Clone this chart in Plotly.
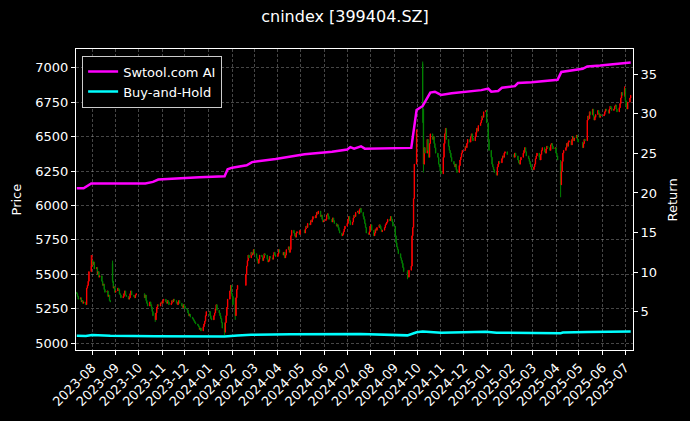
import pandas as pd
import plotly.graph_objects as go

# daily closes, one list per month
close_2023_07 = [5360, 5340, 5320, 5330, 5300, 5310, 5290, 5300, 5280, 5400, 5420, 5450, 5520, 5560]
close_2023_08 = [5600, 5570, 5590, 5540, 5550, 5500, 5520, 5480, 5490, 5450, 5420, 5430, 5390, 5370, 5380,
                 5340, 5350, 5310, 5300, 5450, 5400, 5410, 5370]
close_2023_09 = [5380, 5400, 5390, 5360, 5350, 5330, 5340, 5360, 5380, 5350, 5340, 5320, 5330, 5360, 5380,
                 5350, 5340, 5330, 5350, 5360]
close_2023_10 = [5330, 5350, 5310, 5290, 5270, 5300, 5280, 5260, 5230, 5200, 5170, 5220, 5260, 5280, 5270,
                 5290, 5300]
close_2023_11 = [5290, 5310, 5320, 5300, 5290, 5310, 5300, 5280, 5290, 5310, 5300, 5320, 5310, 5290, 5280,
                 5300, 5310, 5290, 5270, 5260, 5280, 5270]
close_2023_12 = [5250, 5240, 5220, 5200, 5210, 5190, 5180, 5170, 5160, 5150, 5140, 5130, 5120, 5100, 5110,
                 5090, 5120, 5140, 5160, 5200, 5230]
close_2024_01 = [5230, 5200, 5180, 5170, 5200, 5220, 5250, 5280, 5240, 5220, 5200, 5180, 5150, 5110, 5080,
                 5150, 5200, 5260, 5320, 5380, 5420, 5360]
close_2024_02 = [5340, 5280, 5200, 5330, 5390, 5420, 5500, 5560, 5600, 5640, 5620, 5660, 5640, 5650, 5680]
close_2024_03 = [5650, 5620, 5600, 5580, 5610, 5640, 5630, 5600, 5620, 5650, 5640, 5610, 5590, 5600, 5630,
                 5620, 5610, 5640, 5660, 5640, 5630]
close_2024_04 = [5650, 5680, 5660, 5640, 5660, 5620, 5640, 5680, 5700, 5660, 5680, 5780, 5820, 5800, 5780,
                 5770, 5800, 5810, 5790, 5820]
close_2024_05 = [5800, 5830, 5850, 5840, 5870, 5860, 5890, 5880, 5900, 5920, 5910, 5930, 5950, 5940, 5960,
                 5920, 5930, 5900, 5880, 5890]
close_2024_06 = [5900, 5930, 5940, 5920, 5900, 5880, 5910, 5890, 5870, 5850, 5860, 5840, 5820, 5800, 5780,
                 5790, 5810, 5830, 5850]
close_2024_07 = [5870, 5900, 5920, 5890, 5860, 5880, 5910, 5930, 5920, 5950, 5960, 5940, 5970, 5980, 5950,
                 5920, 5900, 5870, 5840, 5800, 5790, 5810, 5850]
close_2024_08 = [5860, 5820, 5780, 5800, 5830, 5820, 5840, 5860, 5850, 5830, 5810, 5820, 5840, 5860, 5870,
                 5880, 5900, 5890, 5920, 5900, 5880, 5850]
close_2024_09 = [5780, 5730, 5700, 5680, 5650, 5620, 5600, 5580, 5550, 5520, 5500, 5480, 5530, 5560, 5780,
                 5840, 6050, 6300, 6550]
close_2024_10 = [6700, 6300, 6420, 6380, 6480, 6400, 6350, 6450, 6520, 6480, 6500, 6450, 6420, 6380, 6350,
                 6300, 6280, 6250]
close_2024_11 = [6230, 6350, 6450, 6520, 6560, 6480, 6430, 6400, 6380, 6350, 6320, 6300, 6280, 6300, 6260,
                 6240, 6290, 6330, 6350, 6380, 6400]
close_2024_12 = [6400, 6430, 6420, 6450, 6480, 6460, 6500, 6520, 6490, 6470, 6500, 6530, 6560, 6540, 6580,
                 6600, 6620, 6650, 6640, 6680, 6690, 6600]
close_2025_01 = [6480, 6400, 6350, 6300, 6280, 6260, 6240, 6220, 6280, 6300, 6320, 6310, 6340, 6360, 6350,
                 6380, 6390, 6370]
close_2025_02 = [6350, 6380, 6360, 6330, 6310, 6300, 6330, 6350, 6380, 6400, 6420, 6390, 6360, 6340, 6320,
                 6300, 6280, 6260]
close_2025_03 = [6280, 6300, 6340, 6360, 6380, 6350, 6330, 6370, 6400, 6420, 6390, 6380, 6410, 6430, 6420,
                 6400, 6440, 6450, 6430, 6410, 6420]
close_2025_04 = [6380, 6360, 6330, 6150, 6250, 6320, 6380, 6400, 6420, 6450, 6430, 6460, 6470, 6440, 6480,
                 6500, 6470, 6490, 6510, 6480, 6460]
close_2025_05 = [6420, 6450, 6480, 6470, 6620, 6650, 6630, 6680, 6660, 6700, 6650, 6620, 6640, 6660, 6690,
                 6670, 6640, 6660, 6650]
close_2025_06 = [6660, 6680, 6700, 6690, 6670, 6700, 6720, 6710, 6690, 6700, 6720, 6730, 6700, 6680, 6710,
                 6740, 6780, 6820, 6800, 6850]
close_2025_07 = [6760, 6720, 6700, 6750, 6780, 6800]

months = ["2023-07", "2023-08", "2023-09", "2023-10", "2023-11", "2023-12",
          "2024-01", "2024-02", "2024-03", "2024-04", "2024-05", "2024-06",
          "2024-07", "2024-08", "2024-09", "2024-10", "2024-11", "2024-12",
          "2025-01", "2025-02", "2025-03", "2025-04", "2025-05", "2025-06", "2025-07"]
monthly_closes = [close_2023_07, close_2023_08, close_2023_09, close_2023_10, close_2023_11, close_2023_12,
                  close_2024_01, close_2024_02, close_2024_03, close_2024_04, close_2024_05, close_2024_06,
                  close_2024_07, close_2024_08, close_2024_09, close_2024_10, close_2024_11, close_2024_12,
                  close_2025_01, close_2025_02, close_2025_03, close_2025_04, close_2025_05, close_2025_06,
                  close_2025_07]

first_open = 5370

# days where the open gapped away from the previous close
gap_dates = ["2023-08-28", "2024-10-08", "2025-04-07"]
gap_opens = [5580, 7030, 6300]

# long wicks
wick_dates = ["2023-07-31", "2023-08-01", "2023-08-28", "2023-10-23", "2024-01-22", "2024-02-05",
              "2024-09-18", "2024-10-08", "2024-10-09", "2025-04-07", "2025-06-30"]
wick_highs = [5640, 5640, 5600, 5220, 5150, 5330, 5530, 7045, 6600, 6330, 6865]
wick_lows = [5540, 5570, 5440, 5155, 5060, 5170, 5465, 6600, 6240, 6060, 6790]

# exchange holidays (weekdays with no trading)
holidays = ["2023-09-29", "2023-10-02", "2023-10-03", "2023-10-04", "2023-10-05", "2023-10-06",
            "2024-01-01", "2024-02-09", "2024-02-12", "2024-02-13", "2024-02-14", "2024-02-15",
            "2024-02-16", "2024-04-04", "2024-04-05", "2024-05-01", "2024-05-02", "2024-05-03",
            "2024-06-10", "2024-09-16", "2024-09-17", "2024-10-01", "2024-10-02", "2024-10-03",
            "2024-10-04", "2024-10-07", "2025-01-01", "2025-01-28", "2025-01-29", "2025-01-30",
            "2025-01-31", "2025-02-03", "2025-02-04", "2025-04-04", "2025-05-01", "2025-05-02",
            "2025-05-05", "2025-06-02"]

# strategy return curves (right axis)
ai_dates = ["2023-07-12", "2023-07-21", "2023-07-31", "2023-10-10", "2023-10-20", "2023-10-27",
            "2023-12-20", "2024-01-22", "2024-01-26", "2024-02-01", "2024-02-20", "2024-02-27",
            "2024-03-29", "2024-04-18", "2024-05-06", "2024-06-11", "2024-07-01", "2024-07-05",
            "2024-07-10", "2024-07-19", "2024-07-24", "2024-09-23", "2024-09-30", "2024-10-08",
            "2024-10-18", "2024-10-24", "2024-11-01", "2024-11-15", "2024-12-24", "2025-01-02",
            "2025-01-06", "2025-01-15", "2025-01-20", "2025-02-06", "2025-02-10", "2025-02-28",
            "2025-04-03", "2025-04-08", "2025-05-06", "2025-05-12", "2025-05-29", "2025-07-08"]
ai_return = [20.6, 20.6, 21.2, 21.2, 21.4, 21.7,
             22.0, 22.1, 23.0, 23.2, 23.5, 23.9,
             24.3, 24.6, 24.9, 25.2, 25.5, 25.8,
             25.6, 25.9, 25.6, 25.7, 30.5, 31.0,
             32.7, 32.8, 32.4, 32.6, 33.0, 33.2,
             32.8, 32.9, 33.3, 33.5, 33.9, 34.0,
             34.3, 35.3, 35.7, 36.0, 36.1, 36.5]

bh_dates = ["2023-07-12", "2023-07-24", "2023-08-01", "2023-08-25", "2023-10-23", "2023-12-28",
            "2024-01-22", "2024-02-08", "2024-02-26", "2024-04-18", "2024-05-20", "2024-07-18",
            "2024-09-18", "2024-09-30", "2024-10-08", "2024-11-01", "2024-12-30", "2025-01-13",
            "2025-04-07", "2025-04-10", "2025-05-12", "2025-06-30", "2025-07-08"]
bh_return = [1.95, 1.92, 2.05, 1.95, 1.88, 1.86,
             1.85, 1.98, 2.07, 2.13, 2.18, 2.18,
             2.0, 2.4, 2.48, 2.33, 2.45, 2.33,
             2.28, 2.35, 2.44, 2.5, 2.5]

# trading calendar
days = pd.bdate_range("2023-07-12", "2025-07-08")
days = days[~days.isin(pd.to_datetime(holidays))]

dates, close = [], []
for month, vals in zip(months, monthly_closes):
    in_month = days[days.strftime("%Y-%m") == month]
    dates += list(in_month[:len(vals)])
    close += vals[:len(in_month)]

df = pd.DataFrame({"close": close}, index=pd.DatetimeIndex(dates))
df["open"] = df["close"].shift(1).fillna(first_open)
for d, o in zip(gap_dates, gap_opens):
    df.loc[pd.Timestamp(d), "open"] = o
df["high"] = df[["open", "close"]].max(axis=1)
df["low"] = df[["open", "close"]].min(axis=1)
for d, h, l in zip(wick_dates, wick_highs, wick_lows):
    ts = pd.Timestamp(d)
    df.loc[ts, "high"] = max(h, df.loc[ts, "high"])
    df.loc[ts, "low"] = min(l, df.loc[ts, "low"])

fig = go.Figure()

fig.add_trace(go.Candlestick(
    x=df.index, open=df["open"], high=df["high"], low=df["low"], close=df["close"],
    increasing=dict(line=dict(color="red", width=1), fillcolor="red"),
    decreasing=dict(line=dict(color="green", width=1), fillcolor="green"),
    showlegend=False, name="cnindex",
))

fig.add_trace(go.Scatter(
    x=pd.to_datetime(ai_dates), y=ai_return, yaxis="y2", mode="lines",
    line=dict(color="magenta", width=2.5), name="Swtool.com AI",
))
fig.add_trace(go.Scatter(
    x=pd.to_datetime(bh_dates), y=bh_return, yaxis="y2", mode="lines",
    line=dict(color="cyan", width=2.5), name="Buy-and-Hold",
))

grid = "rgba(176,176,176,0.4)"
axis_common = dict(
    showline=True, linecolor="white", linewidth=1,
    ticks="outside", ticklen=4, tickcolor="white",
    tickfont=dict(size=13, color="white"), automargin=False,
)

fig.update_layout(
    width=690, height=421,
    paper_bgcolor="black", plot_bgcolor="black",
    font=dict(family="DejaVu Sans", size=13, color="white"),
    title=dict(text="cnindex [399404.SZ]", x=0.5, xanchor="center", y=0.96, yanchor="middle",
               font=dict(size=16, color="white")),
    margin=dict(l=76, r=57, t=49, b=71, autoexpand=False),
    showlegend=True,
    xaxis=dict(
        type="date", range=["2023-07-11", "2025-07-11"],
        tick0="2023-08-01", dtick="M1", tickformat="%Y-%m", tickangle=-45,
        showgrid=True, gridcolor=grid, gridwidth=0.5, griddash="3px,2px",
        mirror=True, rangeslider=dict(visible=False), **axis_common,
    ),
    yaxis=dict(
        range=[4951, 7136], tick0=5000, dtick=250,
        showgrid=True, gridcolor=grid, gridwidth=0.5, griddash="3px,2px",
        zeroline=False, mirror=True, **axis_common,
    ),
    yaxis2=dict(
        overlaying="y", side="right", range=[0.15, 38.2], tick0=5, dtick=5,
        showgrid=False, zeroline=False, **axis_common,
    ),
    legend=dict(
        x=0.011, y=0.978, xanchor="left", yanchor="top",
        bgcolor="black", bordercolor="#cccccc", borderwidth=1,
        font=dict(size=13, color="white"), tracegroupgap=0,
    ),
    annotations=[
        dict(text="Price", xref="paper", yref="paper", x=-0.106, y=0.5, textangle=-90,
             showarrow=False, xanchor="center", yanchor="middle", font=dict(size=13, color="white")),
        dict(text="Return", xref="paper", yref="paper", x=1.0718, y=0.5, textangle=-90,
             showarrow=False, xanchor="center", yanchor="middle", font=dict(size=13, color="white")),
    ],
)

# page body has a default 8px margin; drop it so the figure sits at the window origin
fig.write_html(
    "out.html",
    config={"displayModeBar": False},
    post_script="document.body.style.margin='0';document.body.style.background='black';",
)
